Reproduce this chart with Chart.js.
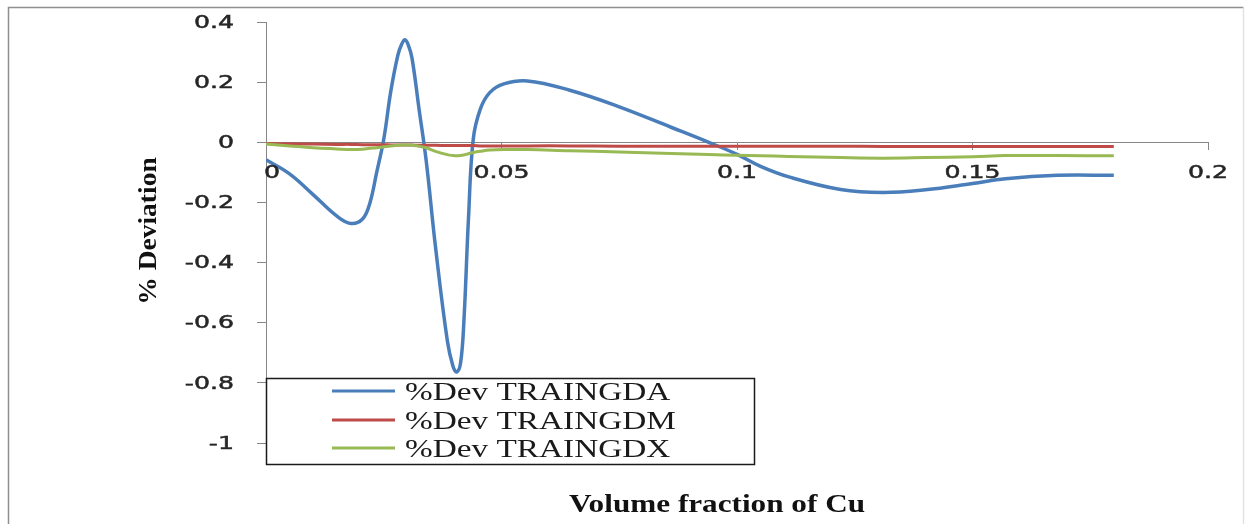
<!DOCTYPE html>
<html>
<head>
<meta charset="utf-8">
<script src="https://cdn.jsdelivr.net/npm/chart.js@4.4.1/dist/chart.umd.min.js"></script>
<style>
  html, body { margin: 0; padding: 0; background: #ffffff; }
  #wrap { width: 1248px; height: 524px; position: relative; }
  canvas { display: block; }
</style>
</head>
<body>
<div id="wrap"><canvas id="chart" width="1248" height="524"></canvas></div>
<script>
// Volume fraction of Cu (x) and % deviation for each training algorithm
const volumeFraction = [0, 0.005, 0.01, 0.015, 0.018, 0.0205, 0.022, 0.0235, 0.025, 0.0265,
  0.028, 0.0288, 0.0295, 0.0302, 0.031, 0.0325, 0.034, 0.036, 0.0385, 0.0397,
  0.0405, 0.0413, 0.042, 0.043, 0.044, 0.0455, 0.0475, 0.0505, 0.0555, 0.0645,
  0.075, 0.086, 0.094, 0.1, 0.105, 0.111, 0.122, 0.131, 0.14, 0.15,
  0.157, 0.168, 0.18];

const devTraingda = [-0.058, -0.105, -0.174, -0.245, -0.270, -0.255, -0.205, -0.100, 0.010, 0.170,
  0.290, 0.326, 0.341, 0.324, 0.280, 0.110, -0.060, -0.350, -0.660, -0.745,
  -0.764, -0.735, -0.600, -0.250, 0.010, 0.110, 0.165, 0.194, 0.204, 0.173,
  0.118, 0.050, 0.000, -0.040, -0.080, -0.115, -0.157, -0.167, -0.158, -0.137,
  -0.121, -0.110, -0.110];

const devTraingdm = [-0.004, -0.005, -0.006, -0.007, -0.007, -0.008, -0.008, -0.008, -0.008, -0.009,
  -0.009, -0.009, -0.009, -0.009, -0.009, -0.010, -0.010, -0.010, -0.011, -0.011,
  -0.011, -0.011, -0.011, -0.011, -0.011, -0.012, -0.012, -0.012, -0.012, -0.012,
  -0.013, -0.013, -0.013, -0.013, -0.013, -0.013, -0.013, -0.014, -0.014, -0.014,
  -0.014, -0.014, -0.014];

const devTraingdx = [-0.006, -0.012, -0.018, -0.022, -0.024, -0.023, -0.020, -0.018, -0.015, -0.012,
  -0.010, -0.009, -0.009, -0.009, -0.010, -0.013, -0.018, -0.030, -0.041, -0.044,
  -0.045, -0.044, -0.042, -0.038, -0.034, -0.030, -0.026, -0.024, -0.024, -0.028,
  -0.032, -0.037, -0.041, -0.043, -0.045, -0.047, -0.051, -0.053, -0.051, -0.048,
  -0.044, -0.044, -0.045];

const seriesNames = ['%Dev TRAINGDA', '%Dev TRAINGDM', '%Dev TRAINGDX'];
const seriesColors = ['#4A7EBB', '#BE4B48', '#98B954'];
const xTickLabels = ['0', '0.05', '0.1', '0.15', '0.2'];
const yTickLabels = ['0.4', '0.2', '0', '-0.2', '-0.4', '-0.6', '-0.8', '-1'];
const xTitle = 'Volume fraction of Cu';
const yTitle = '% Deviation';

const AXIS_GREY = '#868686';
const TICK_TEXT = '#262626';

function points(ys) {
  return volumeFraction.map((x, i) => ({ x: x, y: ys[i] }));
}

// Text drawn with a horizontal stretch factor (wide label faces)
function drawText(ctx, text, x, y, o) {
  ctx.save();
  ctx.translate(x, y);
  if (o.rotate) ctx.rotate(o.rotate);
  ctx.scale(o.sx || 1, 1);
  ctx.font = o.font;
  ctx.fillStyle = o.color;
  ctx.textAlign = o.align || 'left';
  ctx.textBaseline = o.baseline || 'alphabetic';
  ctx.fillText(text, 0, 0);
  if (o.weight) {
    ctx.lineWidth = o.weight;
    ctx.strokeStyle = o.color;
    ctx.strokeText(text, 0, 0);
  }
  ctx.restore();
}

const decorations = {
  id: 'decorations',
  afterDraw(chart) {
    const ctx = chart.ctx;
    const xs = chart.scales.x, ys = chart.scales.y;
    const area = chart.chartArea;

    // outer frame
    ctx.save();
    ctx.lineWidth = 1.5;
    ctx.strokeStyle = '#8f8f8f';
    ctx.beginPath();
    ctx.moveTo(8.5, 530); ctx.lineTo(8.5, 7.5); ctx.lineTo(1243.5, 7.5);
    ctx.stroke();
    ctx.strokeStyle = '#e2e2e2';
    ctx.beginPath();
    ctx.moveTo(1243.5, 7.5); ctx.lineTo(1243.5, 530);
    ctx.stroke();
    ctx.restore();

    // y tick labels
    const tickFont = '18px "DejaVu Sans"';
    yTickLabels.forEach(t => {
      drawText(ctx, t, area.left - 32, ys.getPixelForValue(parseFloat(t)) + 1,
        { font: tickFont, sx: 1.4, align: 'right', baseline: 'middle', color: TICK_TEXT, weight: 0.5 });
    });
    // x tick labels below the zero line
    const zeroY = ys.getPixelForValue(0);
    xTickLabels.forEach(t => {
      drawText(ctx, t, xs.getPixelForValue(parseFloat(t)) + (t === '0' ? 6 : 0), zeroY + 31,
        { font: tickFont, sx: 1.4, align: 'center', baseline: 'middle', color: TICK_TEXT, weight: 0.5 });
    });

    // axis titles
    drawText(ctx, xTitle, 717, 512,
      { font: 'bold 26px "Liberation Serif"', sx: 1.2, align: 'center', color: '#111111' });
    drawText(ctx, yTitle, 156, 231,
      { font: 'bold 25px "Liberation Serif"', sx: 1.1, align: 'center', rotate: -Math.PI / 2, color: '#111111' });

    // legend box
    const lx = area.left, ly = 378, lw = 488, lh = 86;
    ctx.save();
    ctx.fillStyle = '#ffffff';
    ctx.fillRect(lx, ly, lw, lh);
    ctx.lineWidth = 1.5;
    ctx.strokeStyle = '#1a1a1a';
    ctx.strokeRect(lx + 0.5, ly + 0.5, lw, lh);
    ctx.restore();
    const rows = [391, 420, 448];
    chart.data.datasets.forEach((ds, i) => {
      ctx.save();
      ctx.strokeStyle = ds.borderColor;
      ctx.lineWidth = 3;
      ctx.beginPath();
      ctx.moveTo(332, rows[i]);
      ctx.lineTo(395, rows[i]);
      ctx.stroke();
      ctx.restore();
      drawText(ctx, ds.label, 405, rows[i] + 9,
        { font: '26px "Liberation Serif"', sx: 1.28, align: 'left', color: '#1a1a1a' });
    });
  }
};

new Chart(document.getElementById('chart'), {
  type: 'line',
  data: {
    datasets: [
      { label: seriesNames[0], data: points(devTraingda), borderColor: seriesColors[0], borderWidth: 3.5, order: 3 },
      { label: seriesNames[1], data: points(devTraingdm), borderColor: seriesColors[1], borderWidth: 3, order: 2 },
      { label: seriesNames[2], data: points(devTraingdx), borderColor: seriesColors[2], borderWidth: 3, order: 1 }
    ]
  },
  options: {
    responsive: false,
    animation: false,
    devicePixelRatio: 1,
    layout: { padding: { left: 257, right: 40, top: 22, bottom: 81 } },
    elements: {
      line: { tension: 0.4, capBezierPoints: false, fill: false },
      point: { radius: 0, hoverRadius: 0 }
    },
    scales: {
      x: {
        type: 'linear',
        position: { y: 0 },
        min: 0,
        max: 0.2,
        afterBuildTicks: s => { s.ticks = xTickLabels.map(t => ({ value: parseFloat(t) })); },
        grid: { drawOnChartArea: false, drawTicks: true, tickLength: 7, color: AXIS_GREY, lineWidth: 1 },
        border: { color: AXIS_GREY, width: 1 },
        ticks: { display: false }
      },
      y: {
        type: 'linear',
        position: 'left',
        min: -1,
        max: 0.4,
        afterBuildTicks: s => { s.ticks = yTickLabels.map(t => ({ value: parseFloat(t) })); },
        grid: { drawOnChartArea: false, drawTicks: true, tickLength: 9, color: AXIS_GREY, lineWidth: 1 },
        border: { color: AXIS_GREY, width: 1 },
        ticks: { display: false }
      }
    },
    plugins: {
      legend: { display: false },
      tooltip: { enabled: false }
    }
  },
  plugins: [decorations]
});
</script>
</body>
</html>
